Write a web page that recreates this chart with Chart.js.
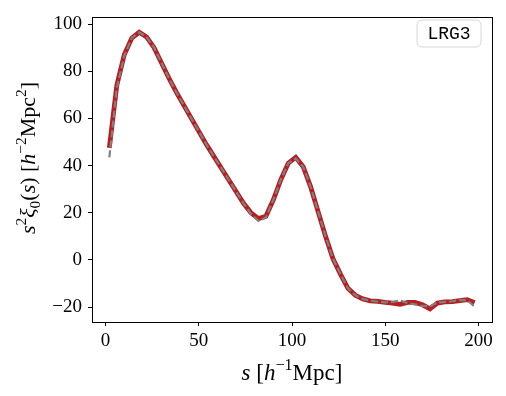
<!DOCTYPE html>
<html>
<head>
<meta charset="utf-8">
<script src="https://cdn.jsdelivr.net/npm/chart.js@4.4.0/dist/chart.umd.min.js"></script>
<style>
  body { margin: 0; background: #fff; }
  #wrap { width: 506px; height: 396px; }
</style>
</head>
<body>
<div id="wrap"><canvas id="xiChart" width="506" height="396"></canvas></div>
<script>
// separation bins, h^-1 Mpc
const sBins = [2, 6, 10, 14, 18, 22, 26, 30, 34, 38,
               42, 46, 50, 54, 58, 62, 66, 70, 74, 78,
               82, 86, 90, 94, 98, 102, 106, 110, 114, 118,
               122, 126, 130, 134, 138, 142, 146, 150, 154, 158,
               162, 166, 170, 174, 178, 182, 186, 190, 194, 198];

// s^2 xi_0(s), solid red curve
const xiRed = [47.5, 74, 87, 94, 96.5, 94.5, 90, 83.5, 77, 71,
               65.5, 60, 54.5, 49, 44, 39, 34, 29, 24, 20,
               17.5, 18.5, 25.5, 34, 41, 43.5, 39.5, 31, 20.5, 10,
               0.5, -6, -12, -15, -16.5, -17.3, -17.6, -18, -18.3, -18.8,
               -18, -18, -19, -20.7, -18.3, -17.8, -17.7, -17.2, -16.8, -18.1];

// s^2 xi_0(s), grey dashed curve
const xiGrey = [43.5, 73, 86.5, 94, 96.5, 94.5, 90, 83.5, 77, 71,
                65.5, 60, 54.5, 49, 44, 39, 34, 29, 24, 19.5,
                16.5, 18, 25.5, 34, 41, 43, 39.5, 31, 20.5, 10,
                0.5, -6, -12, -15, -16.5, -17.3, -17.6, -18, -17.8, -17.2,
                -18.3, -18.8, -19.5, -19.7, -18, -17.8, -17.5, -17, -17, -19.8];

const xTicks = [0, 50, 100, 150, 200];
const yTicks = [-20, 0, 20, 40, 60, 80, 100];
const panelLabel = 'LRG3';

const serif = '"Liberation Serif", "DejaVu Serif", serif';

function toPoints(xs, ys) {
    return xs.map(function(x, i) { return { x: x, y: ys[i] }; });
}

// draws a label made of roman / italic / sup / sub pieces
function richWidth(ctx, parts, size) {
    let w = 0;
    parts.forEach(function(p) {
        const sz = p.pos ? size * 0.7 : size;
        ctx.font = (p.it ? 'italic ' : '') + sz + 'px ' + serif;
        w += ctx.measureText(p.t).width;
    });
    return w;
}

function drawRich(ctx, parts, size, cx, cy, rotate) {
    ctx.save();
    ctx.translate(cx, cy);
    if (rotate) ctx.rotate(-Math.PI / 2);
    const total = richWidth(ctx, parts, size);
    let x = -total / 2;
    ctx.fillStyle = '#000';
    ctx.textBaseline = 'alphabetic';
    ctx.textAlign = 'left';
    parts.forEach(function(p) {
        const sz = p.pos ? size * 0.7 : size;
        ctx.font = (p.it ? 'italic ' : '') + sz + 'px ' + serif;
        let dy = 0;
        if (p.pos === 'sup') dy = -size * 0.42;
        if (p.pos === 'sub') dy = size * 0.22;
        ctx.fillText(p.t, x, size * 0.33 + dy);
        x += ctx.measureText(p.t).width;
    });
    ctx.restore();
}

const xTitle = [
    { t: 's', it: true }, { t: ' [' }, { t: 'h', it: true },
    { t: '\u22121', pos: 'sup' }, { t: 'Mpc' }, { t: ']' }
];
const yTitle = [
    { t: 's', it: true }, { t: '2', pos: 'sup' }, { t: '\u03be', it: true },
    { t: '0', pos: 'sub' }, { t: '(' }, { t: 's', it: true }, { t: ')' },
    { t: ' [' }, { t: 'h', it: true }, { t: '\u22122', pos: 'sup' },
    { t: 'Mpc' }, { t: '2', pos: 'sup' }, { t: ']' }
];

const framePlugin = {
    id: 'frame',
    afterDraw: function(chart) {
        const ctx = chart.ctx;
        const a = chart.chartArea;
        ctx.save();
        ctx.strokeStyle = '#000';
        ctx.lineWidth = 1;
        ctx.strokeRect(Math.round(a.left) + 0.5, Math.round(a.top) + 0.5,
                       Math.round(a.right - a.left), Math.round(a.bottom - a.top));

        // panel label box
        const bx = 417, by = 20, bw = 64, bh = 27, r = 5;
        ctx.beginPath();
        ctx.moveTo(bx + r, by);
        ctx.arcTo(bx + bw, by, bx + bw, by + bh, r);
        ctx.arcTo(bx + bw, by + bh, bx, by + bh, r);
        ctx.arcTo(bx, by + bh, bx, by, r);
        ctx.arcTo(bx, by, bx + bw, by, r);
        ctx.closePath();
        ctx.fillStyle = '#fff';
        ctx.fill();
        ctx.strokeStyle = '#d6d6d6';
        ctx.stroke();
        ctx.fillStyle = '#000';
        ctx.font = '18px "Liberation Mono", "DejaVu Sans Mono", monospace';
        ctx.textAlign = 'center';
        ctx.textBaseline = 'middle';
        ctx.fillText(panelLabel, bx + bw / 2, by + bh / 2 + 1);
        ctx.restore();

        drawRich(ctx, xTitle, 23, (a.left + a.right) / 2, 372, false);
        drawRich(ctx, yTitle, 22, 28, 158, true);
    }
};

const ctx = document.getElementById('xiChart').getContext('2d');
new Chart(ctx, {
    type: 'line',
    data: {
        datasets: [
            {
                label: 'grey',
                data: toPoints(sBins, xiGrey),
                borderColor: '#808080',
                borderWidth: 2.2,
                borderDash: [7, 3],
                pointRadius: 0,
                fill: false,
                tension: 0
            },
            {
                label: 'red',
                data: toPoints(sBins, xiRed),
                borderColor: '#b41f24',
                borderWidth: 4.8,
                pointRadius: 0,
                fill: false,
                tension: 0
            }
        ]
    },
    options: {
        responsive: false,
        animation: false,
        layout: { padding: { left: 0, right: 14, top: 12, bottom: 0 } },
        plugins: {
            legend: { display: false },
            tooltip: { enabled: false }
        },
        scales: {
            x: {
                type: 'linear',
                min: -7.3,
                max: 207.3,
                afterBuildTicks: function(axis) {
                    axis.ticks = xTicks.map(function(v) { return { value: v }; });
                },
                afterFit: function(axis) { axis.height = 74; },
                grid: { display: true, drawOnChartArea: false, drawTicks: true, tickLength: 4, color: '#000', lineWidth: 1 },
                border: { display: true, color: '#000', width: 1 },
                ticks: { color: '#000', padding: 4, maxRotation: 0, font: { family: serif, size: 19 } }
            },
            y: {
                type: 'linear',
                min: -26.3,
                max: 102.8,
                afterBuildTicks: function(axis) {
                    axis.ticks = yTicks.map(function(v) { return { value: v }; });
                },
                afterFit: function(axis) { axis.width = 92; },
                grid: { display: true, drawOnChartArea: false, drawTicks: true, tickLength: 4, color: '#000', lineWidth: 1 },
                border: { display: true, color: '#000', width: 1 },
                ticks: {
                    color: '#000', padding: 6, font: { family: serif, size: 19 },
                    callback: function(v) { return v < 0 ? '\u2212' + Math.abs(v) : String(v); }
                }
            }
        }
    },
    plugins: [framePlugin]
});
</script>
</body>
</html>
